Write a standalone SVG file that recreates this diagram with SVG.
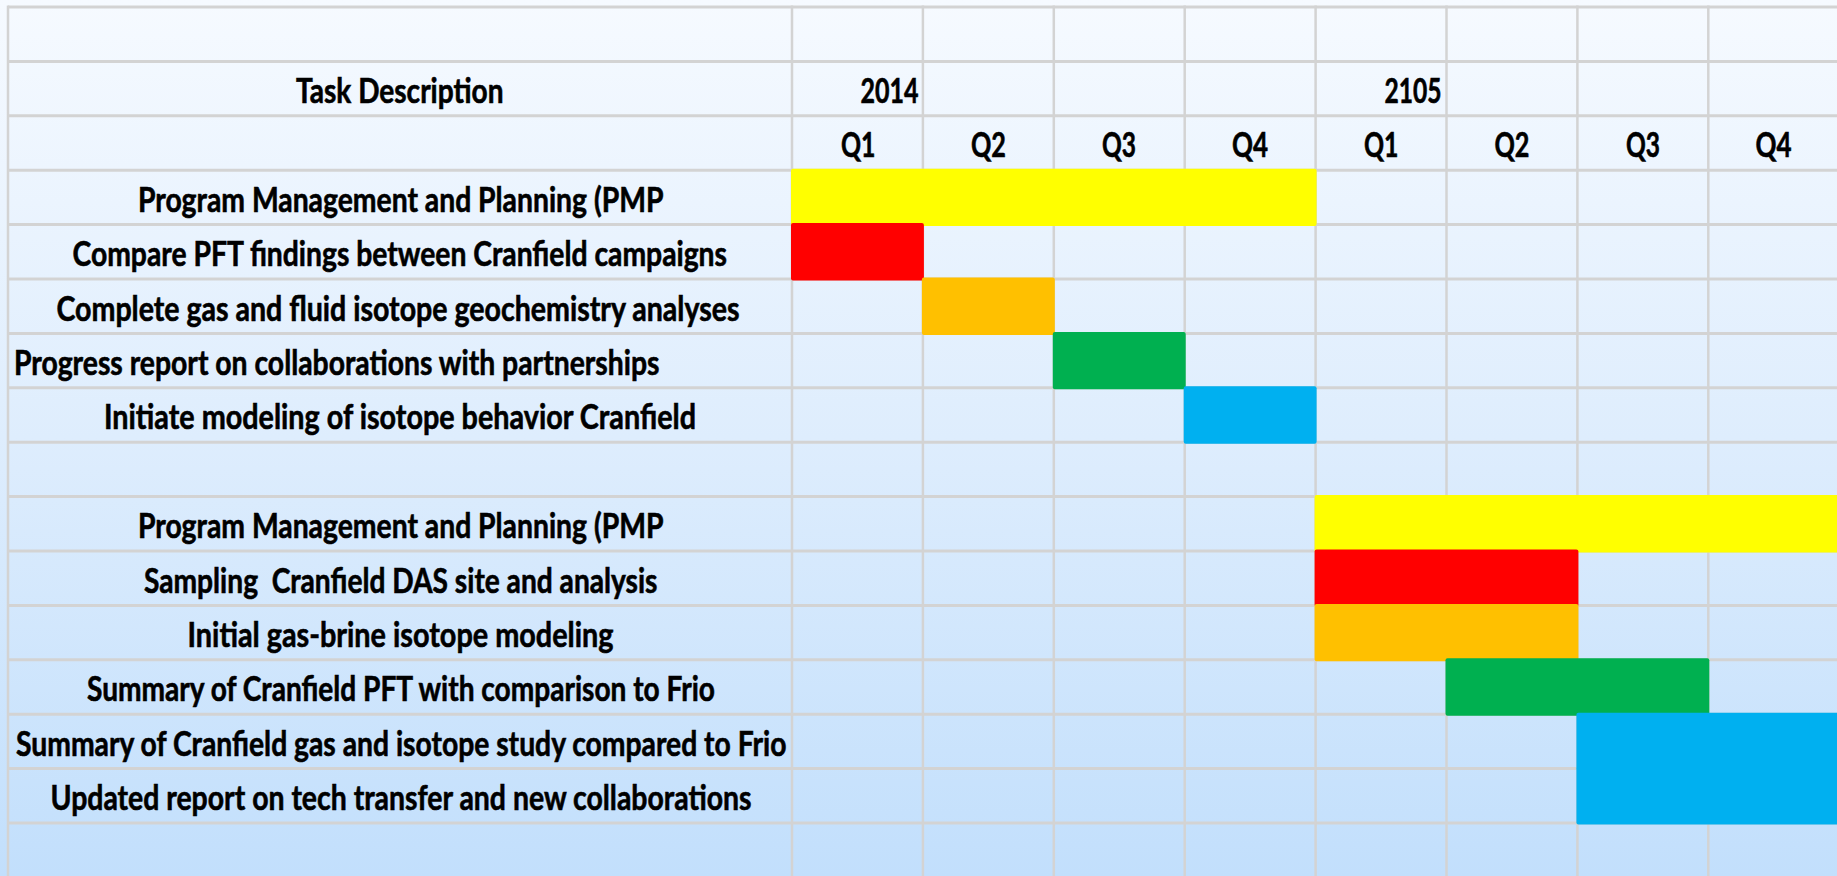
<svg xmlns="http://www.w3.org/2000/svg" width="1837" height="876" viewBox="0 0 1837 876">
  <defs>
    <linearGradient id="sheetBg" x1="0" y1="0" x2="0" y2="1">
      <stop offset="0" stop-color="#f6faff"/>
      <stop offset="0.5" stop-color="#deedfd"/>
      <stop offset="1" stop-color="#c2dffc"/>
    </linearGradient>
  </defs>
  <style>
    .gh { stroke: #d3d3d3; stroke-width: 3; }
    .gv { stroke: #d3d3d3; stroke-width: 2.5; }
    text { font-family: "Lato", "Liberation Sans", sans-serif; font-weight: 700; font-size: 34px; fill: #000; stroke: #000; stroke-width: 0.6px; }
    .yel { fill: #ffff00; }
    .red { fill: #ff0000; }
    .org { fill: #ffc000; }
    .grn { fill: #00b050; }
    .blu { fill: #00b0f0; }
  </style>

  <!-- sheet background -->
  <rect x="0" y="0" width="1837" height="876" fill="url(#sheetBg)"/>

  <!-- cell grid -->
  <g id="grid">
    <line class="gh" x1="8" y1="7" x2="1837" y2="7"/>
    <line class="gh" x1="8" y1="61.4" x2="1837" y2="61.4"/>
    <line class="gh" x1="8" y1="115.8" x2="1837" y2="115.8"/>
    <line class="gh" x1="8" y1="170.2" x2="1837" y2="170.2"/>
    <line class="gh" x1="8" y1="224.6" x2="1837" y2="224.6"/>
    <line class="gh" x1="8" y1="279" x2="1837" y2="279"/>
    <line class="gh" x1="8" y1="333.4" x2="1837" y2="333.4"/>
    <line class="gh" x1="8" y1="387.8" x2="1837" y2="387.8"/>
    <line class="gh" x1="8" y1="442.2" x2="1837" y2="442.2"/>
    <line class="gh" x1="8" y1="496.6" x2="1837" y2="496.6"/>
    <line class="gh" x1="8" y1="551" x2="1837" y2="551"/>
    <line class="gh" x1="8" y1="605.4" x2="1837" y2="605.4"/>
    <line class="gh" x1="8" y1="659.8" x2="1837" y2="659.8"/>
    <line class="gh" x1="8" y1="714.2" x2="1837" y2="714.2"/>
    <line class="gh" x1="8" y1="768.6" x2="1837" y2="768.6"/>
    <line class="gh" x1="8" y1="823" x2="1837" y2="823"/>

    <line class="gv" x1="8" y1="5.5" x2="8" y2="876"/>
    <line class="gv" x1="792" y1="5.5" x2="792" y2="876"/>
    <line class="gv" x1="922.9" y1="5.5" x2="922.9" y2="876"/>
    <line class="gv" x1="1053.8" y1="5.5" x2="1053.8" y2="876"/>
    <line class="gv" x1="1184.7" y1="5.5" x2="1184.7" y2="876"/>
    <line class="gv" x1="1315.6" y1="5.5" x2="1315.6" y2="876"/>
    <line class="gv" x1="1446.5" y1="5.5" x2="1446.5" y2="876"/>
    <line class="gv" x1="1577.4" y1="5.5" x2="1577.4" y2="876"/>
    <line class="gv" x1="1708.3" y1="5.5" x2="1708.3" y2="876"/>
  </g>

  <!-- header rows -->
  <g id="header">
    <text x="296" y="102.9" textLength="207.5" lengthAdjust="spacingAndGlyphs">Task Description</text>
    <text x="860.5" y="102.9" textLength="58" lengthAdjust="spacingAndGlyphs">2014</text>
    <text x="1384.5" y="102.9" textLength="57" lengthAdjust="spacingAndGlyphs">2105</text>
    <text x="841" y="157.3" textLength="34.5" lengthAdjust="spacingAndGlyphs">Q1</text>
    <text x="971" y="157.3" textLength="35" lengthAdjust="spacingAndGlyphs">Q2</text>
    <text x="1102" y="157.3" textLength="34" lengthAdjust="spacingAndGlyphs">Q3</text>
    <text x="1232" y="157.3" textLength="36" lengthAdjust="spacingAndGlyphs">Q4</text>
    <text x="1364" y="157.3" textLength="34.5" lengthAdjust="spacingAndGlyphs">Q1</text>
    <text x="1494.5" y="157.3" textLength="35" lengthAdjust="spacingAndGlyphs">Q2</text>
    <text x="1626" y="157.3" textLength="34" lengthAdjust="spacingAndGlyphs">Q3</text>
    <text x="1755.5" y="157.3" textLength="36" lengthAdjust="spacingAndGlyphs">Q4</text>
  </g>

  <!-- 2014 tasks -->
  <g id="task-pmp-2014">
    <rect class="yel" x="791" y="168.7" width="525.6" height="57.4" rx="2"/>
    <text x="138" y="211.7" textLength="525.5" lengthAdjust="spacingAndGlyphs">Program Management and Planning (PMP</text>
  </g>
  <g id="task-compare-pft">
    <rect class="red" x="791" y="223.1" width="132.9" height="57.4" rx="2"/>
    <text x="72.5" y="266.1" textLength="654.5" lengthAdjust="spacingAndGlyphs">Compare PFT findings between Cranfield campaigns</text>
  </g>
  <g id="task-isotope-analyses">
    <rect class="org" x="921.9" y="277.5" width="132.9" height="57.4" rx="2"/>
    <text x="56.5" y="320.5" textLength="683" lengthAdjust="spacingAndGlyphs">Complete gas and fluid isotope geochemistry analyses</text>
  </g>
  <g id="task-progress-report">
    <rect class="grn" x="1052.8" y="331.9" width="132.9" height="57.4" rx="2"/>
    <text x="14" y="374.9" textLength="645.5" lengthAdjust="spacingAndGlyphs">Progress report on collaborations with partnerships</text>
  </g>
  <g id="task-initiate-modeling">
    <rect class="blu" x="1183.7" y="386.3" width="132.9" height="57.4" rx="2"/>
    <text x="104" y="429.3" textLength="592" lengthAdjust="spacingAndGlyphs">Initiate modeling of isotope behavior Cranfield</text>
  </g>

  <!-- 2015 tasks -->
  <g id="task-pmp-2015">
    <rect class="yel" x="1314.6" y="495.1" width="530" height="57.4" rx="2"/>
    <text x="138" y="538.1" textLength="525.5" lengthAdjust="spacingAndGlyphs">Program Management and Planning (PMP</text>
  </g>
  <g id="task-sampling-das">
    <rect class="red" x="1314.6" y="549.5" width="263.8" height="57.4" rx="2"/>
    <text x="144" y="592.5" textLength="513.5" lengthAdjust="spacingAndGlyphs" style="white-space:pre">Sampling  Cranfield DAS site and analysis</text>
  </g>
  <g id="task-gas-brine-modeling">
    <rect class="org" x="1314.6" y="603.9" width="263.8" height="57.4" rx="2"/>
    <text x="187.5" y="646.9" textLength="426" lengthAdjust="spacingAndGlyphs">Initial gas-brine isotope modeling</text>
  </g>
  <g id="task-pft-summary">
    <rect class="grn" x="1445.5" y="658.3" width="263.8" height="57.4" rx="2"/>
    <text x="87" y="701.3" textLength="628" lengthAdjust="spacingAndGlyphs">Summary of Cranfield PFT with comparison to Frio</text>
  </g>
  <g id="task-gas-isotope-summary">
    <rect class="blu" x="1576.4" y="712.7" width="270" height="57.4" rx="2"/>
    <text x="16" y="755.7" textLength="770.5" lengthAdjust="spacingAndGlyphs">Summary of Cranfield gas and isotope study compared to Frio</text>
  </g>
  <g id="task-tech-transfer">
    <rect class="blu" x="1576.4" y="767.1" width="270" height="57.4" rx="2"/>
    <text x="50.5" y="810.1" textLength="701" lengthAdjust="spacingAndGlyphs">Updated report on tech transfer and new collaborations</text>
  </g>
</svg>
